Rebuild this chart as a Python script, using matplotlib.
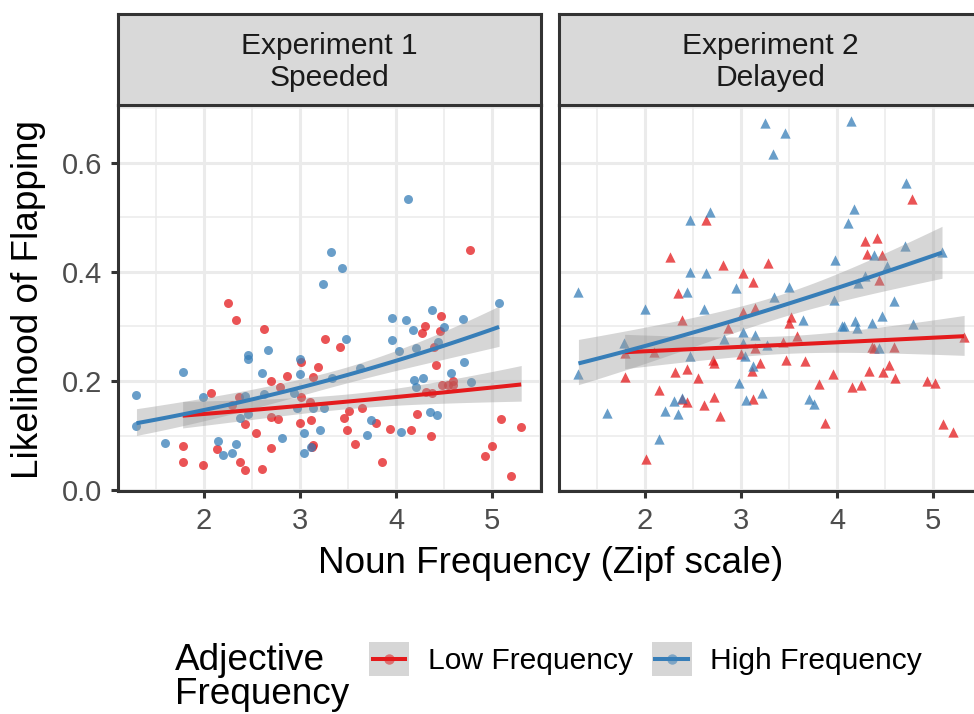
import numpy as np
import matplotlib
matplotlib.use("Agg")
import matplotlib.pyplot as plt
from matplotlib.patches import Rectangle
from matplotlib.lines import Line2D
from matplotlib.legend_handler import HandlerBase

plt.rcParams['font.family'] = ['Liberation Sans', 'DejaVu Sans']

# Experiment 1 (Speeded) - high frequency adjectives
e1_high_x = [1.30, 1.30, 1.60, 1.78, 1.99, 2.15, 2.20, 2.29, 2.34, 2.38, 2.43, 2.46, 2.46, 2.46,
             2.61, 2.63, 2.67, 2.81, 2.94, 2.97, 3.00, 3.00, 3.04, 3.04, 3.11, 3.14, 3.21, 3.24,
             3.25, 3.32, 3.33, 3.44, 3.48, 3.62, 3.70, 3.74, 3.96, 3.96, 4.03, 4.05, 4.10, 4.12,
             4.17, 4.19, 4.21, 4.21, 4.28, 4.35, 4.37, 4.42, 4.44, 4.50, 4.57, 4.70, 4.71, 4.78, 5.07]
e1_high_y = [0.174, 0.118, 0.086, 0.217, 0.170, 0.091, 0.064, 0.069, 0.085, 0.133, 0.173, 0.140,
             0.248, 0.240, 0.214, 0.177, 0.256, 0.096, 0.179, 0.150, 0.241, 0.213, 0.104, 0.069,
             0.079, 0.150, 0.110, 0.378, 0.150, 0.437, 0.205, 0.407, 0.277, 0.223, 0.102, 0.128,
             0.316, 0.276, 0.255, 0.107, 0.312, 0.533, 0.293, 0.202, 0.260, 0.189, 0.205, 0.143,
             0.331, 0.137, 0.271, 0.299, 0.214, 0.313, 0.234, 0.199, 0.343]

# Experiment 1 (Speeded) - low frequency adjectives
e1_low_x = [1.78, 1.78, 1.99, 2.07, 2.14, 2.25, 2.29, 2.34, 2.37, 2.38, 2.43, 2.43, 2.54, 2.61,
            2.63, 2.70, 2.70, 2.70, 2.77, 2.79, 2.86, 3.00, 3.01, 3.01, 3.10, 3.11, 3.12, 3.14,
            3.14, 3.19, 3.26, 3.42, 3.46, 3.49, 3.51, 3.57, 3.65, 3.79, 3.85, 3.94, 4.15, 4.22,
            4.27, 4.30, 4.31, 4.36, 4.37, 4.39, 4.41, 4.46, 4.47, 4.48, 4.54, 4.59, 4.59, 4.77,
            4.92, 5.00, 5.09, 5.19, 5.30]
e1_low_y = [0.081, 0.052, 0.046, 0.179, 0.076, 0.343, 0.156, 0.312, 0.170, 0.052, 0.121, 0.037,
            0.105, 0.039, 0.296, 0.201, 0.134, 0.077, 0.130, 0.190, 0.209, 0.124, 0.234, 0.170,
            0.161, 0.129, 0.079, 0.082, 0.207, 0.226, 0.277, 0.262, 0.132, 0.110, 0.145, 0.084,
            0.151, 0.123, 0.052, 0.113, 0.110, 0.139, 0.288, 0.300, 0.180, 0.099, 0.178, 0.263,
            0.230, 0.291, 0.320, 0.192, 0.192, 0.200, 0.193, 0.441, 0.062, 0.081, 0.131, 0.026,
            0.115]

# Experiment 2 (Delayed) - high frequency adjectives
e2_high_x = [1.31, 1.31, 1.61, 1.78, 2.00, 2.15, 2.21, 2.30, 2.35, 2.39, 2.44, 2.47, 2.47, 2.47,
             2.62, 2.64, 2.68, 2.82, 2.95, 2.98, 3.02, 3.02, 3.04, 3.05, 3.12, 3.15, 3.22, 3.25,
             3.27, 3.33, 3.34, 3.46, 3.50, 3.64, 3.71, 3.76, 3.97, 3.98, 4.05, 4.07, 4.11, 4.14,
             4.18, 4.19, 4.21, 4.22, 4.29, 4.36, 4.38, 4.43, 4.47, 4.52, 4.59, 4.71, 4.72, 4.79, 5.09]
e2_high_y = [0.364, 0.213, 0.141, 0.269, 0.332, 0.094, 0.145, 0.164, 0.140, 0.169, 0.363, 0.399,
             0.496, 0.246, 0.332, 0.398, 0.509, 0.277, 0.370, 0.197, 0.289, 0.269, 0.246, 0.166,
             0.227, 0.285, 0.178, 0.673, 0.266, 0.616, 0.354, 0.654, 0.373, 0.312, 0.168, 0.158,
             0.349, 0.421, 0.301, 0.301, 0.490, 0.677, 0.515, 0.310, 0.297, 0.380, 0.392, 0.307,
             0.431, 0.260, 0.320, 0.411, 0.346, 0.448, 0.563, 0.305, 0.436]

# Experiment 2 (Delayed) - low frequency adjectives
e2_low_x = [1.79, 1.79, 2.01, 2.10, 2.15, 2.26, 2.31, 2.35, 2.39, 2.39, 2.44, 2.44, 2.55, 2.62,
            2.64, 2.71, 2.72, 2.72, 2.78, 2.81, 2.86, 3.00, 3.02, 3.02, 3.11, 3.12, 3.13, 3.15,
            3.15, 3.20, 3.28, 3.44, 3.47, 3.50, 3.52, 3.58, 3.67, 3.81, 3.87, 3.96, 4.15, 4.25,
            4.29, 4.31, 4.33, 4.36, 4.38, 4.41, 4.43, 4.47, 4.48, 4.54, 4.59, 4.60, 4.78, 4.93,
            5.02, 5.10, 5.20, 5.32]
e2_low_y = [0.208, 0.251, 0.058, 0.254, 0.184, 0.427, 0.217, 0.361, 0.312, 0.167, 0.222, 0.162,
            0.206, 0.156, 0.496, 0.238, 0.233, 0.170, 0.136, 0.413, 0.298, 0.249, 0.327, 0.398,
            0.219, 0.382, 0.167, 0.334, 0.260, 0.233, 0.417, 0.272, 0.239, 0.307, 0.317, 0.283,
            0.236, 0.194, 0.123, 0.213, 0.190, 0.193, 0.457, 0.433, 0.219, 0.263, 0.260, 0.463,
            0.386, 0.431, 0.217, 0.229, 0.263, 0.206, 0.534, 0.201, 0.196, 0.121, 0.106, 0.280]

panel_titles = ["Experiment 1\nSpeeded", "Experiment 2\nDelayed"]
groups = ["Low Frequency", "High Frequency"]
colors = {"Low Frequency": "#E41A1C", "High Frequency": "#377EB8"}


def logistic_smooth(x, y, n=80, mult=1.2):
    # logistic glm fit by IRLS, band from the (quasi) standard error
    x = np.asarray(x, float)
    y = np.asarray(y, float)
    X = np.column_stack([np.ones_like(x), x])
    b = np.array([np.log(y.mean() / (1 - y.mean())), 0.0])
    for _ in range(100):
        mu = 1 / (1 + np.exp(-(X @ b)))
        w = mu * (1 - mu)
        z = X @ b + (y - mu) / w
        XtW = X.T * w
        b_new = np.linalg.solve(XtW @ X, XtW @ z)
        if np.allclose(b_new, b, atol=1e-12):
            b = b_new
            break
        b = b_new
    mu = 1 / (1 + np.exp(-(X @ b)))
    w = mu * (1 - mu)
    phi = np.sum((y - mu) ** 2 / w) / (len(x) - 2)
    cov = phi * np.linalg.inv((X.T * w) @ X)
    xs = np.linspace(x.min(), x.max(), n)
    Xs = np.column_stack([np.ones_like(xs), xs])
    eta = Xs @ b
    se = np.sqrt(np.einsum('ij,jk,ik->i', Xs, cov, Xs))
    inv = lambda e: 1 / (1 + np.exp(-e))
    return xs, inv(eta), inv(eta - mult * se), inv(eta + mult * se)


class SmoothKey(HandlerBase):
    # ggplot-like key: grey square, translucent dot, coloured line
    def create_artists(self, legend, orig_handle, xdescent, ydescent, width, height,
                       fontsize, trans):
        x0, y0 = -xdescent, -ydescent
        yc = y0 + height / 2
        c = orig_handle.get_color()
        rect = Rectangle((x0, y0), width, height, facecolor="#D6D6D6", edgecolor="none",
                         transform=trans)
        dot = Line2D([x0 + width / 2], [yc], marker="o", markersize=7.5, color=c,
                     alpha=0.55, markeredgewidth=0, linestyle="none", transform=trans)
        line = Line2D([x0 + 0.09 * width, x0 + 0.91 * width], [yc, yc], color=c, lw=2.9,
                      transform=trans)
        return [rect, dot, line]


W, H = 974, 714
fig = plt.figure(figsize=(W / 100, H / 100), dpi=100)

data = [
    {"Low Frequency": (e1_low_x, e1_low_y), "High Frequency": (e1_high_x, e1_high_y)},
    {"Low Frequency": (e2_low_x, e2_low_y), "High Frequency": (e2_high_x, e2_high_y)},
]
markers = ["o", "^"]
msize = [42, 55]

pan_left = [118, 559]
pan_w = 423.4
pan_top, pan_bot = 105, 490.7
strip_top = 14

border = "#333333"
for i in range(2):
    ax = fig.add_axes([pan_left[i] / W, (H - pan_bot) / H, pan_w / W, (pan_bot - pan_top) / H])
    ax.set_xlim(1.108, 5.51)
    ax.set_ylim(-0.001, 0.706)
    ax.set_xticks([2, 3, 4, 5])
    ax.set_xticks([1.5, 2.5, 3.5, 4.5, 5.5], minor=True)
    ax.set_yticks([0.0, 0.2, 0.4, 0.6])
    ax.set_yticks([0.1, 0.3, 0.5, 0.7], minor=True)
    ax.set_yticklabels(["0.0", "0.2", "0.4", "0.6"])
    ax.grid(which="major", color="#EBEBEB", lw=2.2)
    ax.grid(which="minor", color="#EBEBEB", lw=1.1)
    ax.set_axisbelow(True)
    for s in ax.spines.values():
        s.set_color(border)
        s.set_linewidth(2.2)
    ax.tick_params(which="major", length=5, width=2.2, color=border,
                   labelsize=21, labelcolor="#4D4D4D", pad=6.5)
    ax.tick_params(which="minor", length=0)
    if i == 1:
        ax.tick_params(axis="y", left=False, labelleft=False)

    for g in groups:
        gx, gy = data[i][g]
        ax.scatter(gx, gy, s=msize[i], marker=markers[i], color=colors[g],
                   alpha=0.75, linewidths=0, zorder=2)
    for g in groups:
        gx, gy = data[i][g]
        xs, fit, lo, hi = logistic_smooth(gx, gy)
        ax.fill_between(xs, lo, hi, color="#999999", alpha=0.4, lw=0, zorder=3)
        ax.plot(xs, fit, color=colors[g], lw=2.9, zorder=4, solid_capstyle="butt")

    sax = fig.add_axes([pan_left[i] / W, (H - pan_top) / H, pan_w / W, (pan_top - strip_top) / H])
    sax.set_facecolor("#D9D9D9")
    sax.set_xticks([])
    sax.set_yticks([])
    for s in sax.spines.values():
        s.set_color(border)
        s.set_linewidth(2.2)
    sax.text(0.5, 0.47, panel_titles[i], ha="center", va="center", fontsize=21.6,
             color="#1A1A1A", linespacing=1.2, transform=sax.transAxes)

fig.text((118 + 982.4) / 2 / W, (H - 573) / H, "Noun Frequency (Zipf scale)",
         ha="center", va="baseline", fontsize=26.6)
fig.text(28.5 / W, (H - 300) / H, "Likelihood of Flapping", rotation=90,
         ha="center", va="center", fontsize=26.6)

# legend
fig.text(175 / W, (H - 704) / H, "Adjective\nFrequency", ha="left", va="baseline",
         fontsize=26.6, linespacing=0.97)
handles = [Line2D([], [], color=colors[g]) for g in groups]
leg = fig.legend(handles, groups, handler_map={Line2D: SmoothKey()},
                 loc="center left", bbox_to_anchor=(369 / W, (H - 659) / H), ncol=2,
                 frameon=False, fontsize=21.6, handlelength=1.33, handleheight=1.33,
                 handletextpad=0.63, columnspacing=0.63, borderpad=0, borderaxespad=0)

fig.savefig("out.png", dpi=100)
